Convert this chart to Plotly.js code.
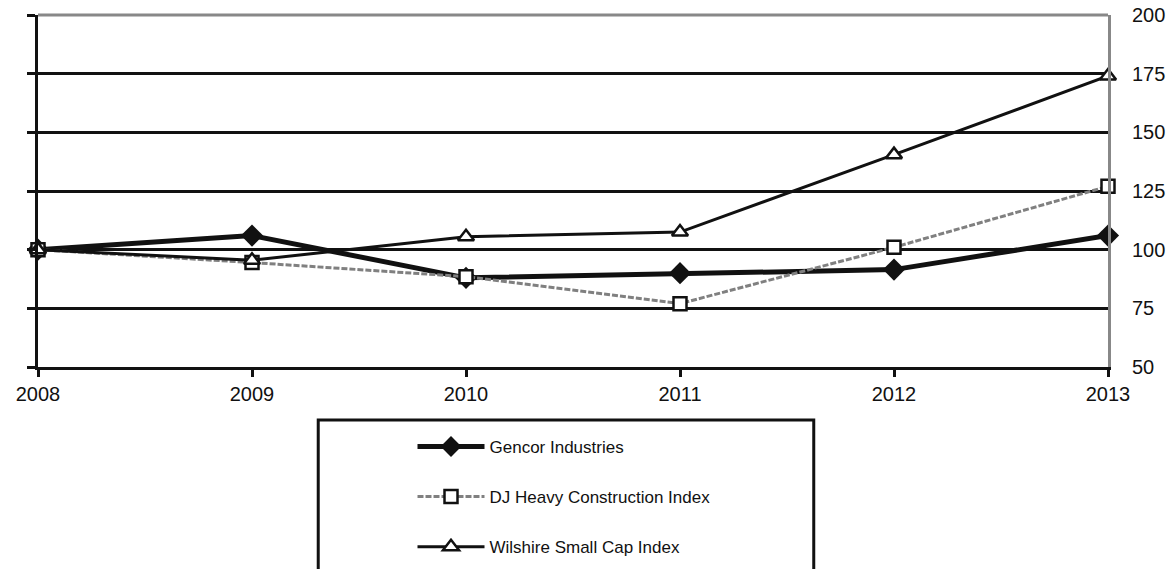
<!DOCTYPE html>
<html>
<head>
<meta charset="utf-8">
<script src="https://cdn.plot.ly/plotly-3.0.1.min.js"></script>
<style>html,body{margin:0;padding:0;background:#fff;}#chart{width:1170px;height:569px;}</style>
</head>
<body>
<div id="chart"></div>
<script>
const years = [2008, 2009, 2010, 2011, 2012, 2013];
const gencor = [100, 106, 88, 90, 91.5, 106];
const djHeavy = [100, 94.5, 88.5, 77, 101, 127];
const wilshire = [100, 95.5, 105.5, 107.5, 140.5, 174];
const seriesNames = ['Gencor Industries', 'DJ Heavy Construction Index', 'Wilshire Small Cap Index'];
const yTicks = [50, 75, 100, 125, 150, 175, 200];

const traces = [
  {x: years, y: gencor, name: seriesNames[0], type: 'scatter', mode: 'lines+markers', legendgroup: 'a',
   line: {color: '#111', width: 5}, marker: {symbol: 'diamond', size: 17, color: '#111'}, cliponaxis: false},
  {x: years, y: djHeavy, name: seriesNames[1], type: 'scatter', mode: 'lines+markers', legendgroup: 'b',
   line: {color: '#808080', width: 3, dash: '6px,2px'}, marker: {symbol: 'square', size: 13, color: '#fff', line: {color: '#111', width: 2.5}}, cliponaxis: false},
  {x: years, y: wilshire, name: seriesNames[2], type: 'scatter', mode: 'lines+markers', legendgroup: 'c',
   line: {color: '#111', width: 3}, marker: {symbol: 'triangle-up', size: 14, color: '#fff', line: {color: '#111', width: 2.5}}, cliponaxis: false}
];
// invisible point so the right-hand label axis is drawn
traces.push({x: [years[0]], y: [yTicks[0]], yaxis: 'y2', type: 'scatter', mode: 'markers', marker: {opacity: 0}, showlegend: false, hoverinfo: 'skip'});

const layout = {
  width: 1170, height: 569,
  margin: {l: 38, r: 62, t: 15, b: 202, autoexpand: false},
  paper_bgcolor: '#fff', plot_bgcolor: '#fff',
  font: {family: 'Liberation Sans, Arial, sans-serif', size: 20, color: '#111'},
  showlegend: true,
  xaxis: {range: [2008, 2013], tickvals: years, ticktext: years.map(String), showgrid: false, zeroline: false,
    showline: true, linecolor: '#111', linewidth: 3, ticks: 'outside', ticklen: 7, tickwidth: 3, tickcolor: '#111',
    tickfont: {size: 20}},
  yaxis: {range: [50, 200], tickvals: yTicks, showticklabels: false, showgrid: true, gridcolor: '#111', gridwidth: 3,
    zeroline: false, showline: true, linecolor: '#111', linewidth: 3, ticks: 'outside', ticklen: 8, tickwidth: 3, tickcolor: '#111'},
  yaxis2: {range: [50, 200], tickvals: yTicks, overlaying: 'y', side: 'right', showgrid: false, zeroline: false,
    showline: true, linecolor: '#888', linewidth: 3, ticks: '', ticklabelstandoff: 17, tickfont: {size: 20}},
  legend: {x: 0.35, xanchor: 'left', y: -0.176, yanchor: 'top', bgcolor: 'rgba(0,0,0,0)', borderwidth: 0,
    itemwidth: 67, tracegroupgap: 25, font: {family: 'Liberation Sans, Arial, sans-serif', size: 17, color: '#111'}},
  shapes: [
    {type: 'line', xref: 'paper', yref: 'paper', x0: 0, x1: 1, y0: 1, y1: 1, line: {color: '#888', width: 3}, layer: 'above'},
    {type: 'rect', xref: 'paper', yref: 'paper', x0: 0.2619, x1: 0.725, y0: -0.1506, y1: -0.7, line: {color: '#111', width: 3}, fillcolor: 'rgba(0,0,0,0)'}
  ]
};
Plotly.newPlot('chart', traces, layout, {displayModeBar: false, staticPlot: true});
</script>
</body>
</html>
